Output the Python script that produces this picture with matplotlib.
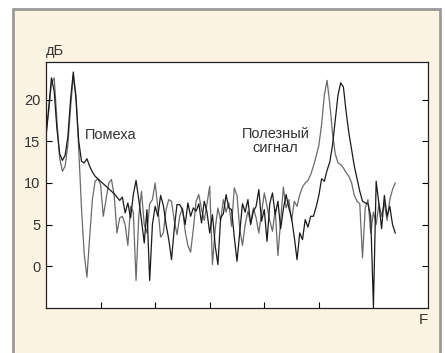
import numpy as np
import matplotlib
matplotlib.use("Agg")
import matplotlib.pyplot as plt
from matplotlib.patches import Rectangle

plt.rcParams['font.family'] = ['Liberation Sans Narrow', 'Liberation Sans', 'DejaVu Sans']

# частота, условные деления 0..6.4 с шагом 0.05
freq = np.round(np.arange(129) * 0.05, 2)

level_black = [
    15.5, 19.0, 22.6, 21.0, 16.5, 13.5, 12.7, 13.3, 15.5, 20.0,
    23.3, 20.0, 15.0, 12.6, 12.4, 12.9, 12.0, 11.3, 10.8, 10.5,
    10.2, 9.9, 9.6, 9.3, 9.0, 8.7, 8.3, 7.9, 8.3, 6.4,
    7.6, 5.8, 8.6, 10.3, 8.0, 5.5, 2.8, 6.8, -1.7, 5.0,
    7.2, 6.0, 8.5, 7.3, 5.0, 3.2, 0.8, 4.5, 7.4, 7.4,
    6.8, 5.0, 7.6, 6.0, 7.0, 6.6, 7.5, 5.2, 7.8, 6.5,
    4.0, 6.2, 2.5, 0.2, 5.8, 6.3, 8.6, 7.0, 6.8, 3.5,
    0.6, 4.0, 7.5, 6.5, 8.0, 5.0, 6.6, 7.2, 9.2, 5.4,
    6.8, 3.0, 7.5, 8.8, 6.2, 7.8, 4.5, 6.9, 8.6, 7.0,
    5.8, 3.5, 0.8, 4.0, 3.2, 5.6, 4.7, 6.0, 6.0, 7.1,
    8.5, 10.5, 10.2, 11.5, 12.5, 14.5, 17.5, 20.5, 22.0, 21.5,
    18.5, 16.0, 14.0, 12.0, 10.5, 9.0, 7.8, 7.6, 7.5, 6.0,
    -4.8, 10.2, 7.5, 4.5, 8.5, 6.0, 7.2, 5.0, 4.0,
]

level_gray = [
    16.0, 18.5, 22.0, 22.6, 17.5, 13.0, 11.4, 12.0, 14.5, 19.0,
    22.8, 20.5, 14.0, 7.0, 1.5, -1.3, 3.5, 8.0, 10.2, 10.5,
    9.8, 6.0, 8.0, 10.0, 10.4, 8.5, 4.0, 5.8, 6.0, 5.0,
    2.5, 7.2, 6.5, -1.7, 6.0, 9.0, 5.0, 4.0, 7.5, 8.0,
    10.0, 7.0, 3.5, 4.0, 6.8, 8.0, 7.8, 5.5, 3.8, 6.0,
    7.0, 4.2, 2.5, 1.7, 4.5, 7.8, 8.6, 6.8, 5.5, 7.5,
    9.6, 0.2, 4.5, 7.0, 5.5, 8.0, 6.5, 7.6, 4.8, 9.4,
    8.5, 4.5, 2.5, 5.0, 6.6, 5.2, 7.0, 5.8, 4.0, 6.4,
    8.8, 7.2, 5.5, 4.2, 6.8, 1.3, 5.5, 9.5, 7.0, 8.0,
    5.5, 7.8, 7.2, 8.6, 9.5, 10.0, 10.3, 11.0, 12.0, 13.2,
    14.5, 17.0, 20.5, 22.3, 19.5, 16.0, 13.5, 12.4, 12.2, 11.8,
    11.2, 10.8, 10.0, 8.5, 7.8, 7.5, 1.0, 7.0, 8.0, 4.0,
    6.5, 5.0, 7.5, 6.0, 7.6, 5.5, 8.0, 9.2, 10.0,
]

y_ticks = [0, 5, 10, 15, 20]
x_ticks = [1, 2, 3, 4, 5, 6]

fig = plt.figure(figsize=(4.45, 3.53), dpi=100, facecolor='white')
# кремовая подложка с серой рамкой
fig.patches.append(Rectangle((13 / 445, -0.05), 427 / 445, 1.05 - 9 / 353,
                             transform=fig.transFigure, facecolor='#fcf3e2',
                             edgecolor='#9a9a9a', linewidth=2, zorder=-10))

ax = fig.add_axes([46 / 445, 1 - 308 / 353, 382 / 445, 246 / 353])
ax.set_zorder(1)
ax.set_facecolor('white')
ax.plot(freq, level_gray, color='#6a6a6a', lw=0.9)
ax.plot(freq, level_black, color='#1a1a1a', lw=0.9)

ax.set_xlim(0, 7)
ax.set_ylim(-5, 24.5)
ax.set_xticks(x_ticks)
ax.set_xticklabels([])
ax.set_yticks(y_ticks)
ax.tick_params(direction='in', length=4, width=0.8, right=True, top=False,
               labelsize=10.5, labelcolor='#333333', pad=4)
for s in ax.spines.values():
    s.set_linewidth(0.9)
    s.set_color('#222222')

ax.text(0.0, 1.015, 'дБ', transform=ax.transAxes, fontsize=10.5,
        color='#333333', ha='left', va='bottom')
ax.text(1.0, -0.02, 'F', transform=ax.transAxes, fontsize=11,
        color='#333333', ha='right', va='top')
ax.text(0.72, 15.8, 'Помеха', fontsize=10.5, color='#333333',
        ha='left', va='center')
ax.text(4.21, 15.0, 'Полезный\nсигнал', fontsize=10.5, color='#333333',
        ha='center', va='center', linespacing=1.0)

fig.savefig('out.png', dpi=100, facecolor='white')
